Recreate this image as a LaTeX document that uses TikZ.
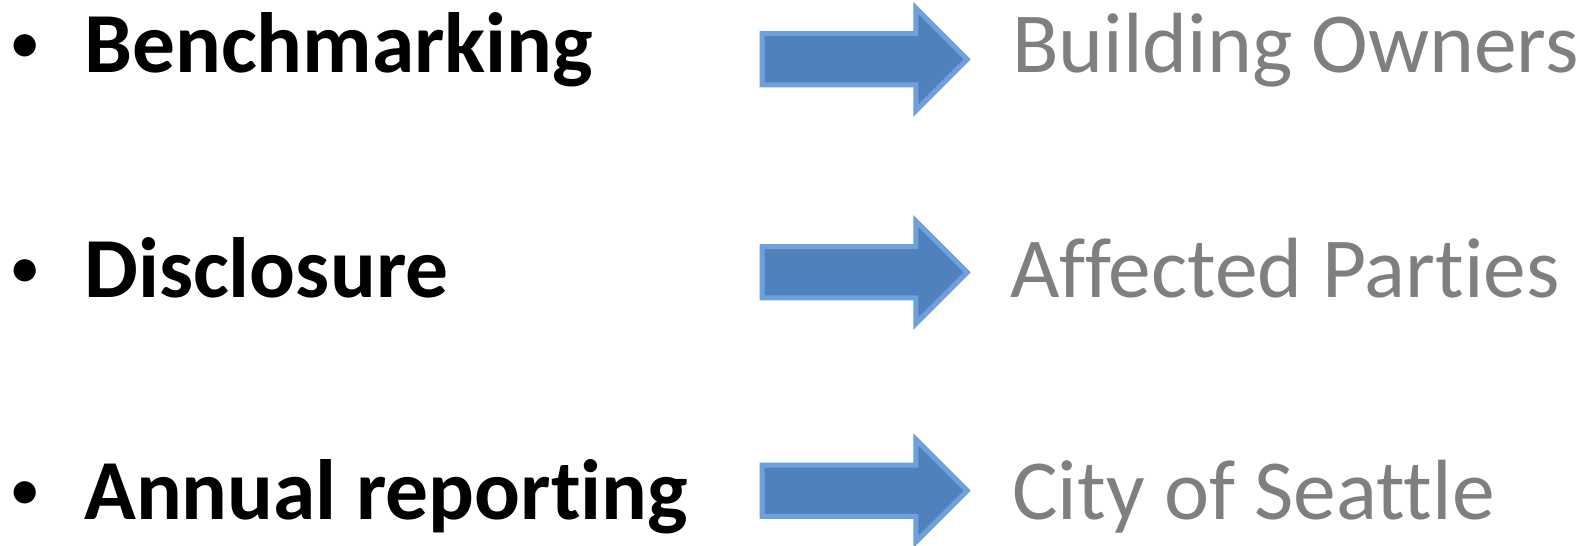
\documentclass[tikz,border=0pt]{standalone}
\usepackage{fontspec}
\setmainfont[Ligatures={NoCommon}]{Carlito}
\definecolor{arrowfill}{RGB}{79,129,189}
\definecolor{arrowedge}{RGB}{111,160,220}
\definecolor{graytext}{RGB}{127,127,127}
\tikzset{
  arrowshape/.style={fill=arrowfill,draw=arrowedge,line width=5pt,line join=miter},
  bulletmark/.style={inner sep=0pt,anchor=base west,font=\fontsize{63}{70}\selectfont},
  lefttext/.style={inner sep=0pt,anchor=base west,font=\fontsize{85.5}{95}\selectfont\bfseries},
  righttext/.style={inner sep=0pt,anchor=base west,text=graytext,font=\fontsize{85.5}{95}\selectfont}
}
\newcommand{\fatarrow}[1]{%
  \draw[arrowshape] (762,#1+25.65) -- (915.8,#1+25.65) -- (915.8,#1+51.4) -- (967.2,#1)
    -- (915.8,#1-51.4) -- (915.8,#1-25.65) -- (762,#1-25.65) -- cycle;}
\begin{document}
\begin{tikzpicture}[x=1pt,y=1pt]
\useasboundingbox (0,0) rectangle (1585,546);
% row 1
\node[bulletmark] (b1) at (9.5,482) {•};
\node[lefttext] (l1) at (84,473) {Benchmarking};
\fatarrow{486.7}
\node[righttext] (r1) at (1012,473) {Building Owners};
% row 2
\node[bulletmark] (b2) at (9.5,257) {•};
\node[lefttext] (l2) at (84,248) {Disclosure};
\fatarrow{273.7}
\node[righttext] (r2) at (1010,248) {Affected Parties};
% row 3
\node[bulletmark] (b3) at (9.5,35) {•};
\node[lefttext] (l3) at (84,26) {Annual reporting};
\fatarrow{55.3}
\node[righttext] (r3) at (1012,26) {City of Seattle};
\end{tikzpicture}
\end{document}
